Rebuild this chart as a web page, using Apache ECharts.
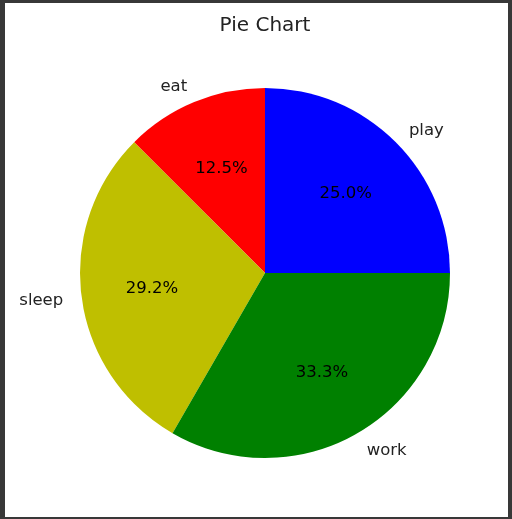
<!DOCTYPE html>
<html>
<head>
<meta charset="utf-8">
<script src="https://cdn.jsdelivr.net/npm/echarts@6/dist/echarts.min.js"></script>
<style>
    html, body { margin: 0; padding: 0; background: #383838; }
    #main { position: absolute; left: 5px; top: 3px; width: 503px; height: 514px; background: #fff; }
</style>
</head>
<body>
<div id="main"></div>
<script>
var labels = ['play', 'eat', 'sleep', 'work'];
var values = [6, 3, 7, 8];
var colors = ['#0000ff', '#ff0000', '#bfbf00', '#008000'];

var R = 185;
var pieData = [];
for (var i = 0; i < labels.length; i++) {
    pieData.push({ name: labels[i], value: values[i], itemStyle: { color: colors[i] } });
}

var myChart = echarts.init(document.getElementById('main'));

var option = {
    animation: false,
    title: {
        text: 'Pie Chart',
        left: 255,
        top: 8,
        textAlign: 'center',
        textStyle: { fontFamily: 'DejaVu Sans', fontSize: 20, fontWeight: 'normal', color: '#222' }
    },
    series: [
        {
            // slices + outer name labels
            type: 'pie',
            radius: R,
            center: [260, 270],
            startAngle: 0,
            clockwise: false,
            silent: true,
            data: pieData,
            label: {
                show: true,
                position: 'outside',
                distanceToLabelLine: 0,
                offset: [0, 1.5],
                fontFamily: 'DejaVu Sans',
                fontSize: 16.5,
                color: '#222',
                formatter: '{b}'
            },
            labelLine: { show: false, length: 18.5, length2: 0 },
            labelLayout: { hideOverlap: false },
            avoidLabelOverlap: false
        },
        {
            // transparent copy, only for the percentage labels at 0.6 R
            type: 'pie',
            radius: [0, 2 * 0.6 * R],
            center: [260, 271],
            startAngle: 0,
            clockwise: false,
            silent: true,
            data: pieData.map(function (d) {
                return { name: d.name, value: d.value, itemStyle: { color: 'rgba(0,0,0,0)' } };
            }),
            label: {
                show: true,
                position: 'inside',
                fontFamily: 'DejaVu Sans',
                fontSize: 16.5,
                color: '#000',
                textBorderWidth: 0,
                formatter: function (p) { return p.percent.toFixed(1) + '%'; }
            },
            labelLine: { show: false }
        }
    ]
};

myChart.setOption(option);
</script>
</body>
</html>
